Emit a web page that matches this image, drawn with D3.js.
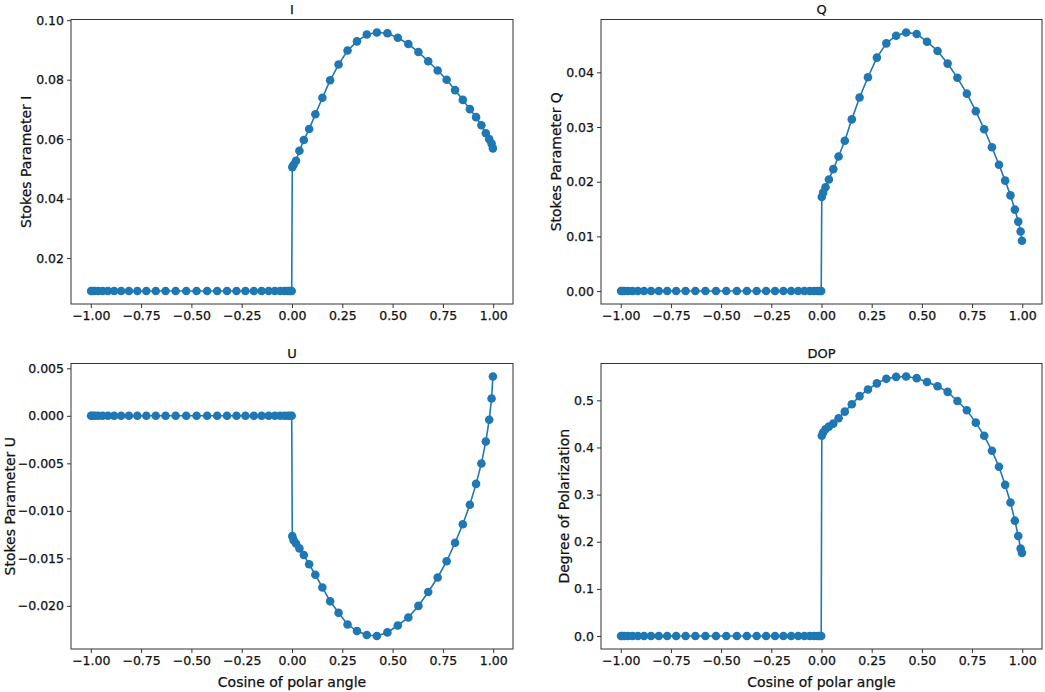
<!DOCTYPE html>
<html><head><meta charset="utf-8">
<script src="https://cdn.jsdelivr.net/npm/d3@7"></script>
<style>
body{margin:0;background:#fff;}
svg text{font-family:"DejaVu Sans",sans-serif;fill:#111;stroke:#111;stroke-width:0.25px;}
</style>
</head><body>
<svg id="chart" width="1045" height="692"></svg>
<script>
// ---- data ----
const cosAngle = [
  -0.9985, -0.9919, -0.9801, -0.9632, -0.9413, -0.9148, -0.8840, -0.8490, -0.8104, -0.7686,
  -0.7240, -0.6770, -0.6283, -0.5782, -0.5257, -0.4743, -0.4218, -0.3718, -0.3230, -0.2760,
  -0.2314, -0.1896, -0.1510, -0.1160, -0.0852, -0.0587, -0.0368, -0.0199, -0.0081, -0.0015,
  0.0015, 0.0081, 0.0199, 0.0368, 0.0587, 0.0852, 0.1160, 0.1510, 0.1896, 0.2314,
  0.2760, 0.3230, 0.3718, 0.4218, 0.4743, 0.5257, 0.5782, 0.6283, 0.6770, 0.7240,
  0.7686, 0.8104, 0.8490, 0.8840, 0.9148, 0.9413, 0.9632, 0.9801, 0.9919, 0.9985
];
const stokesI = [
  0.0089, 0.0089, 0.0089, 0.0089, 0.0089, 0.0089, 0.0089, 0.0089, 0.0089, 0.0089,
  0.0089, 0.0089, 0.0089, 0.0089, 0.0089, 0.0089, 0.0089, 0.0089, 0.0089, 0.0089,
  0.0089, 0.0089, 0.0089, 0.0089, 0.0089, 0.0089, 0.0089, 0.0089, 0.0089, 0.0089,
  0.0506, 0.0514, 0.0527, 0.0561, 0.0597, 0.0634, 0.0684, 0.0739, 0.0798, 0.0851,
  0.0898, 0.0929, 0.0952, 0.0959, 0.0956, 0.0941, 0.0920, 0.0893, 0.0862, 0.0831,
  0.0800, 0.0765, 0.0732, 0.0701, 0.0674, 0.0647, 0.0620, 0.0600, 0.0585, 0.0569
];
const stokesQ = [
  0, 0, 0, 0, 0, 0, 0, 0, 0, 0,
  0, 0, 0, 0, 0, 0, 0, 0, 0, 0,
  0, 0, 0, 0, 0, 0, 0, 0, 0, 0,
  0.0172, 0.0180, 0.0190, 0.0204, 0.0223, 0.0246, 0.0275, 0.0314, 0.0354, 0.0391,
  0.0427, 0.0453, 0.0467, 0.0473, 0.0470, 0.0456, 0.0439, 0.0416, 0.0390, 0.0361,
  0.0329, 0.0296, 0.0263, 0.0231, 0.0202, 0.0175, 0.0149, 0.0127, 0.0109, 0.0092
];
const stokesU = [
  0, 0, 0, 0, 0, 0, 0, 0, 0, 0,
  0, 0, 0, 0, 0, 0, 0, 0, 0, 0,
  0, 0, 0, 0, 0, 0, 0, 0, 0, 0,
  -0.01266, -0.01308, -0.01343, -0.01395, -0.01465, -0.01562, -0.01673, -0.01806, -0.01952, -0.02073,
  -0.02195, -0.02265, -0.02307, -0.02317, -0.02279, -0.02206, -0.02122, -0.02000, -0.01854, -0.01701,
  -0.01530, -0.01336, -0.01141, -0.00935, -0.00716, -0.00501, -0.00271, -0.00042, 0.00182, 0.00414
];
const dop = [
  0, 0, 0, 0, 0, 0, 0, 0, 0, 0,
  0, 0, 0, 0, 0, 0, 0, 0, 0, 0,
  0, 0, 0, 0, 0, 0, 0, 0, 0, 0,
  0.4247, 0.4317, 0.4388, 0.4443, 0.4506, 0.4620, 0.4760, 0.4916, 0.5090, 0.5230,
  0.5360, 0.5456, 0.5498, 0.5506, 0.5470, 0.5390, 0.5300, 0.5180, 0.4985, 0.4790,
  0.4527, 0.4247, 0.3930, 0.3590, 0.3207, 0.2833, 0.2447, 0.2122, 0.1857, 0.1764
];
const xTicks = [-1.00, -0.75, -0.50, -0.25, 0.00, 0.25, 0.50, 0.75, 1.00];
const iTicks = [0.02, 0.04, 0.06, 0.08, 0.10];
const qTicks = [0.00, 0.01, 0.02, 0.03, 0.04];
const uTicks = [-0.020, -0.015, -0.010, -0.005, 0.000, 0.005];
const dopTicks = [0.0, 0.1, 0.2, 0.3, 0.4, 0.5];
const titles = ["I", "Q", "U", "DOP"];
const yLabels = ["Stokes Parameter I", "Stokes Parameter Q", "Stokes Parameter U", "Degree of Polarization"];
const xLabel = "Cosine of polar angle";

// ---- layout ----
const color = "#1f77b4";
const svg = d3.select("#chart");
const boxes = [
  {x0: 71, x1: 513, y0: 19.5, y1: 304},
  {x0: 601, x1: 1042, y0: 19.5, y1: 304},
  {x0: 71, x1: 513, y0: 363.5, y1: 649},
  {x0: 601, x1: 1042, y0: 363.5, y1: 649}
];
const panels = [
  {vals: stokesI, ticks: iTicks, fmt: d3.format(".2f"), xl: false},
  {vals: stokesQ, ticks: qTicks, fmt: d3.format(".2f"), xl: false},
  {vals: stokesU, ticks: uTicks, fmt: d3.format(".3f"), xl: true},
  {vals: dop, ticks: dopTicks, fmt: d3.format(".1f"), xl: true}
];

function padded(ext) {
  const m = (ext[1] - ext[0]) * 0.05;
  return [ext[0] - m, ext[1] + m];
}

panels.forEach((p, i) => {
  const b = boxes[i];
  const x = d3.scaleLinear().domain(padded(d3.extent(cosAngle))).range([b.x0, b.x1]);
  const y = d3.scaleLinear().domain(padded(d3.extent(p.vals))).range([b.y1, b.y0]);
  const g = svg.append("g");

  const xa = g.append("g").attr("transform", `translate(0,${b.y1})`)
    .call(d3.axisBottom(x).tickValues(xTicks).tickFormat(d3.format(".2f")).tickSize(4).tickPadding(3));
  const ya = g.append("g").attr("transform", `translate(${b.x0},0)`)
    .call(d3.axisLeft(y).tickValues(p.ticks).tickFormat(p.fmt).tickSize(4).tickPadding(3));
  [xa, ya].forEach(a => {
    a.select(".domain").remove();
    a.selectAll(".tick line").attr("stroke", "#333");
    a.selectAll(".tick text").attr("font-size", 12.5).attr("fill", "#111");
  });

  g.append("rect").attr("x", b.x0).attr("y", b.y0)
    .attr("width", b.x1 - b.x0).attr("height", b.y1 - b.y0)
    .attr("fill", "none").attr("stroke", "#333").attr("stroke-width", 1);

  const pts = cosAngle.map((c, k) => [c, p.vals[k]]);
  g.append("path").datum(pts)
    .attr("d", d3.line().x(d => x(d[0])).y(d => y(d[1])))
    .attr("fill", "none").attr("stroke", color).attr("stroke-width", 1.6);
  g.selectAll("circle").data(pts).join("circle")
    .attr("cx", d => x(d[0])).attr("cy", d => y(d[1])).attr("r", 4.3)
    .attr("fill", color);

  g.append("text").attr("x", (b.x0 + b.x1) / 2).attr("y", b.y0 - 6)
    .attr("text-anchor", "middle").attr("font-size", 13).text(titles[i]);

  const bb = ya.node().getBBox();
  const lx = Math.max(b.x0 + bb.x - 5, 15);
  g.append("text")
    .attr("transform", `translate(${lx},${(b.y0 + b.y1) / 2}) rotate(-90)`)
    .attr("text-anchor", "middle").attr("font-size", 14).text(yLabels[i]);

  if (p.xl) {
    g.append("text").attr("x", (b.x0 + b.x1) / 2).attr("y", b.y1 + 38)
      .attr("text-anchor", "middle").attr("font-size", 14).text(xLabel);
  }
});
</script>
</body></html>
